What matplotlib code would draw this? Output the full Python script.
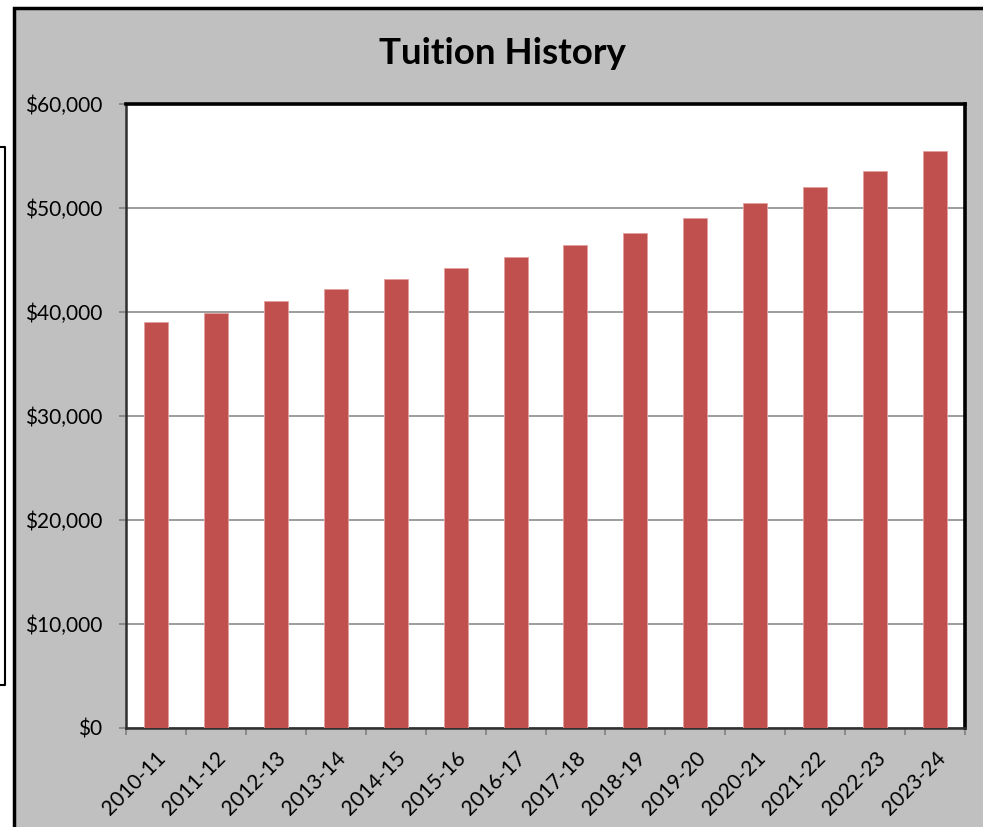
import numpy as np
import matplotlib
matplotlib.use("Agg")
import matplotlib.pyplot as plt
from matplotlib.patches import Rectangle
from matplotlib.lines import Line2D
from matplotlib.ticker import FuncFormatter, FixedLocator

# tuition per academic year
years = ['2010-11', '2011-12', '2012-13', '2013-14', '2014-15', '2015-16', '2016-17',
         '2017-18', '2018-19', '2019-20', '2020-21', '2021-22', '2022-23', '2023-24']
tuition = [39000, 39950, 41030, 42240, 43140, 44200, 45290,
           46440, 47600, 49070, 50480, 52020, 53560, 55450]

plt.rcParams['font.family'] = ['Lato', 'DejaVu Sans']

W, H = 983, 827
fig = plt.figure(figsize=(W / 100, H / 100), dpi=100)
fig.patch.set_facecolor('white')

# grey chart panel (runs off the right and bottom edge)
fig.patches.append(Rectangle((14 / W, -0.05), 1.1, 1 - 8 / H + 0.05, transform=fig.transFigure,
                             facecolor='#c0c0c0', edgecolor='black', linewidth=2.5, zorder=-5))
# edge of a neighbouring box at the far left
fig.lines.append(Line2D([0, 5 / W, 5 / W, 0], [1 - 147 / H, 1 - 147 / H, 1 - 685 / H, 1 - 685 / H],
                        transform=fig.transFigure, color='black', linewidth=1.5, zorder=-5))

ax = fig.add_axes([126 / W, 1 - 728 / H, 839 / W, 624 / H])
ax.set_zorder(1)
ax.set_facecolor('white')

x = np.arange(len(years))
ax.bar(x, tuition, width=0.4, color='#c0504d', edgecolor='#e3a19f', linewidth=0.6, zorder=3)

ax.set_xlim(-0.5, len(years) - 0.5)
ax.set_ylim(0, 60000)
ax.set_yticks(np.arange(0, 60001, 10000))
ax.yaxis.set_major_formatter(FuncFormatter(lambda v, p: '${:,.0f}'.format(v)))
ax.grid(axis='y', color='#8c8c8c', linewidth=1.2, zorder=1)
ax.set_axisbelow(True)

ax.set_xticks(x)
ax.set_xticklabels(years, rotation=45, ha='right', rotation_mode='anchor')
ax.xaxis.set_minor_locator(FixedLocator(np.arange(-0.5, len(years), 1)))
ax.tick_params(axis='x', which='major', length=0, labelsize=15, pad=14)
ax.tick_params(axis='x', which='minor', length=5, width=1.2, color='#808080')
ax.tick_params(axis='y', length=5, width=1.2, color='#808080', labelsize=15, pad=12)

for s in ['top', 'right']:
    ax.spines[s].set_color('black')
    ax.spines[s].set_linewidth(2.6)
for s in ['left', 'bottom']:
    ax.spines[s].set_color('#303030')
    ax.spines[s].set_linewidth(1.8)

fig.text(502 / W, 1 - 54 / H, 'Tuition History', ha='center', va='center',
         fontsize=26.5, fontweight='bold')

fig.savefig('out.png', dpi=100)
